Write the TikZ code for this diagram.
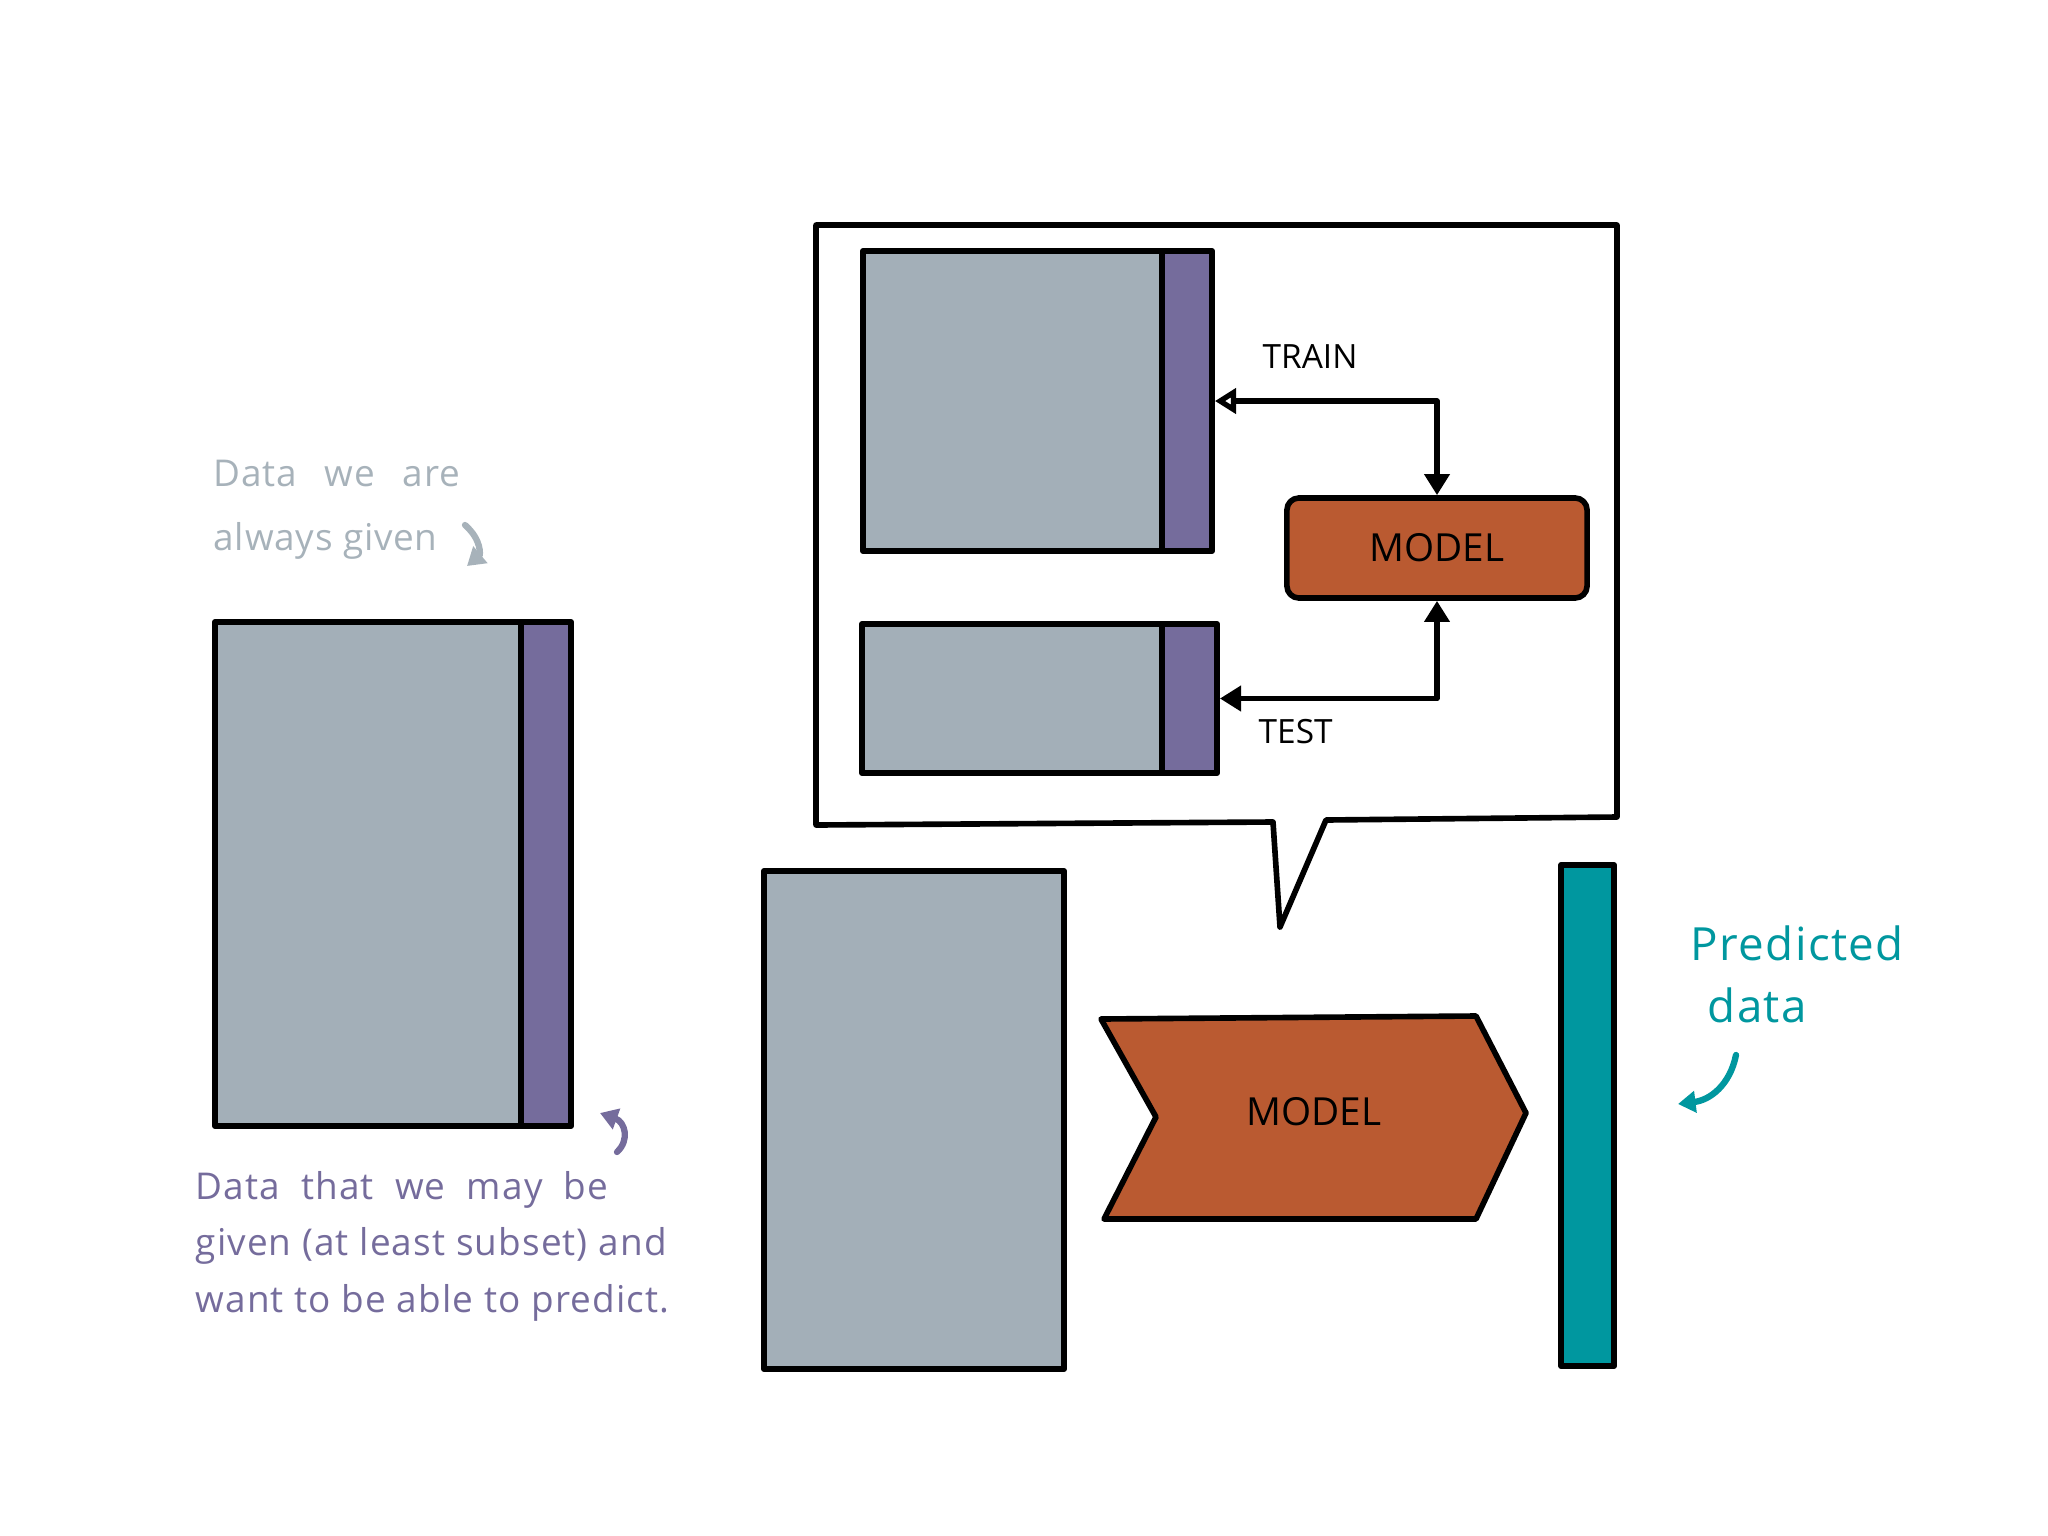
\documentclass[tikz,border=0pt]{standalone}
\usepackage{fontspec}
\setmainfont{Open Sans}
\usetikzlibrary{arrows.meta,calc}
\definecolor{datagray}{HTML}{A3AFB8}
\definecolor{targetpurple}{HTML}{756C9C}
\definecolor{modelorange}{HTML}{BA5A31}
\definecolor{predteal}{HTML}{00979F}
\definecolor{notegray}{HTML}{A7B2BA}
\tikzset{
  outline/.style={draw=black, line width=1.6pt, line join=round, line cap=round},
  databox/.style={outline, fill=datagray, inner sep=0pt, rectangle},
  withtarget/.style={path picture={
      \fill[targetpurple] ([xshift=-#1]path picture bounding box.north east) rectangle (path picture bounding box.south east);
      \draw[line width=1.6pt] ([xshift=-#1]path picture bounding box.north east) -- ([xshift=-#1]path picture bounding box.south east);}},
  modelbox/.style={outline, fill=modelorange, rounded corners=0.12cm, inner sep=0pt, font=\fontsize{11}{13}\selectfont},
  predbox/.style={outline, fill=predteal, inner sep=0pt, rectangle},
  conn/.style={line width=1.6pt, line join=round, line cap=round},
  graynote/.style={text=notegray, font=\fontsize{10.5}{18}\selectfont\addfontfeature{LetterSpace=2}, align=left, inner sep=0pt},
  purplenote/.style={text=targetpurple, font=\fontsize{10.5}{16}\selectfont\addfontfeature{LetterSpace=3}, align=left, inner sep=0pt},
  tealnote/.style={text=predteal, font=\fontsize{13}{16}\selectfont\addfontfeature{LetterSpace=3}, inner sep=0pt},
  smalllabel/.style={font=\fontsize{9.5}{11}\selectfont, inner sep=0pt},
  notearrow/.style={line width=1.8pt, line cap=round, -{Triangle[length=5pt,width=6pt]}}
}
\begin{document}
\begin{tikzpicture}[x=0.01cm,y=-0.01cm]
\useasboundingbox (0,0) rectangle (2048,1536);

% left: full data set
\node[databox, withtarget=0.5cm, minimum width=3.56cm, minimum height=5.04cm] (full) at (393,874) {};

% annotations left
\node[graynote, anchor=base west] (given) at (213,550) {Data\hspace{5pt} we\hspace{5pt} are\\always given};
\draw[notearrow, notegray] (465,525) .. controls (482,540) and (480,555) .. (467,566);
\draw[notearrow, targetpurple] (617,1152) .. controls (630,1140) and (625,1122) .. (600,1113);
\node[purplenote, anchor=base west] (maybe) at (195,1312) {Data\hspace{3pt} that\hspace{3pt} we\hspace{3pt} may\hspace{3pt} be\\given (at least subset) and\\want to be able to predict.};

% speech bubble
\draw[outline, fill=white] (816,225) -- (1617,225) -- (1617,817) -- (1326,820) -- (1280,927) -- (1273,822) -- (816,825) -- cycle;

% train / test
\node[databox, withtarget=0.5cm, minimum width=3.49cm, minimum height=3.00cm] (train) at (1037.5,401) {};
\node[databox, withtarget=0.55cm, minimum width=3.55cm, minimum height=1.49cm] (test) at (1039.5,698.5) {};
\node[modelbox, minimum width=3.00cm, minimum height=1.00cm] (model) at (1437,548) {MODEL};

\draw[conn, {Triangle[open,length=6pt,width=7pt]}-{Triangle[length=6pt,width=7pt]}] (train.east) -| (model.north);
\draw[conn, {Triangle[length=6pt,width=7pt]}-{Triangle[length=6pt,width=7pt]}] (test.east) -| (model.south);

\node[smalllabel, anchor=base west] (trainlbl) at (1262,368) {TRAIN};
\node[smalllabel, anchor=base west] (testlbl) at (1258,743) {TEST};

% bottom row
\node[databox, minimum width=3.00cm, minimum height=4.98cm] (new) at (914,1120) {};
\draw[outline, fill=modelorange] (1101,1019) -- (1476,1016) -- (1526,1113) -- (1476,1219) -- (1104,1219) -- (1156,1117) -- cycle;
\node[font=\fontsize{11}{13}\selectfont, inner sep=0pt] (model2) at (1314,1112) {MODEL};
\node[predbox, minimum width=0.53cm, minimum height=5.01cm] (pred) at (1587.5,1115.5) {};

% predicted annotation
\node[tealnote, anchor=base west] (predlbl) at (1690,960) {Predicted};
\node[tealnote, anchor=base west] (datalbl) at (1707,1022) {data};
\draw[notearrow, predteal] (1736,1055) .. controls (1730,1085) and (1710,1100) .. (1678,1104);
\end{tikzpicture}
\end{document}
